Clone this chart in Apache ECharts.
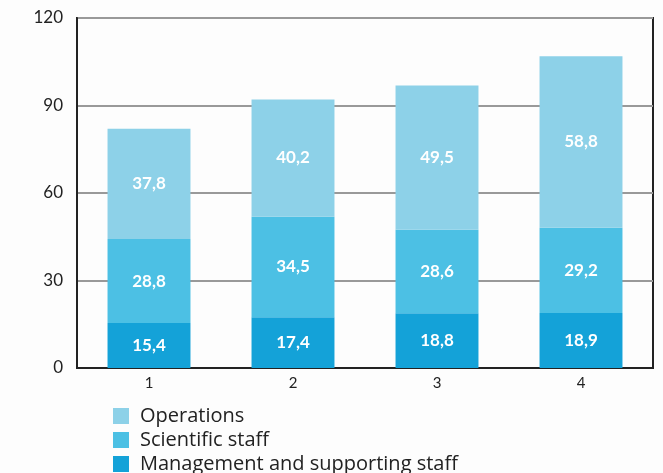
<!DOCTYPE html>
<html>
<head>
<meta charset="utf-8">
<script src="https://cdn.jsdelivr.net/npm/echarts@6/dist/echarts.min.js"></script>
<style>
  html, body { margin: 0; padding: 0; background: #fdfdfd; }
  #chart { width: 663px; height: 473px; }
</style>
</head>
<body>
<div id="chart"></div>
<script>
// Stacked staff figures per period
const categories = ['1', '2', '3', '4'];
const management = [15.4, 17.4, 18.8, 18.9];
const scientific = [28.8, 34.5, 28.6, 29.2];
const operations = [37.8, 40.2, 49.5, 58.8];
const yTicks = [0, 30, 60, 90, 120];
const legendOrder = ['Operations', 'Scientific staff', 'Management and supporting staff'];

const FONT = 'Lato';
const fmt = v => String(v).replace('.', ',');

function barSeries(name, values, color) {
  return {
    name: name,
    type: 'bar',
    stack: 'total',
    data: values,
    barWidth: '57.6%',
    itemStyle: { color: color },
    label: {
      show: true,
      position: 'inside',
      color: '#ffffff',
      fontFamily: FONT,
      fontWeight: 'bold',
      fontSize: 17,
      formatter: p => fmt(p.value)
    }
  };
}

// one single-item legend per row, stacked vertically
const legends = legendOrder.map((name, i) => ({
  orient: 'vertical',
  left: 108,
  top: 401 + i * 24,
  itemWidth: 16,
  itemHeight: 16,
  icon: 'rect',
  data: [name],
  textStyle: { color: '#222', fontFamily: 'Open Sans', fontSize: 20, padding: [0, 0, 0, 6] }
}));

const chart = echarts.init(document.getElementById('chart'));
chart.setOption({
  backgroundColor: '#fdfdfd',
  animation: false,
  grid: {
    left: 77, right: 10, top: 18, bottom: 105,
    show: true, borderColor: '#222', borderWidth: 2, backgroundColor: 'transparent'
  },
  xAxis: {
    type: 'category',
    data: categories,
    axisLine: { lineStyle: { color: '#222', width: 2 } },
    axisTick: { show: false },
    axisLabel: { color: '#222', fontFamily: FONT, fontSize: 15, margin: 8 }
  },
  yAxis: {
    type: 'value',
    min: yTicks[0],
    max: yTicks[yTicks.length - 1],
    interval: 30,
    axisLine: { show: true, lineStyle: { color: '#222', width: 2 } },
    axisTick: { show: false },
    axisLabel: { color: '#222', fontFamily: FONT, fontSize: 17, margin: 14 },
    splitLine: { lineStyle: { color: '#999', width: 2 } }
  },
  legend: legends,
  series: [
    barSeries('Management and supporting staff', management, '#14a2d8'),
    barSeries('Scientific staff', scientific, '#4cc0e4'),
    barSeries('Operations', operations, '#8dd1e8')
  ]
});
</script>
</body>
</html>
